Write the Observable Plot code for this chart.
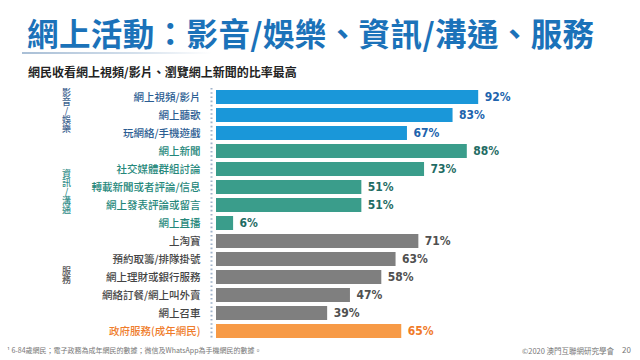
<!DOCTYPE html>
<html><head><meta charset="utf-8">
<script src="https://cdn.jsdelivr.net/npm/d3@7"></script>
<script src="https://cdn.jsdelivr.net/npm/@observablehq/plot@0.6"></script>
<style>
html,body{margin:0;padding:0;background:#fff;}
body{width:640px;height:360px;position:relative;overflow:hidden;font-family:"Noto Sans CJK TC","Noto Sans",sans-serif;}
#title{position:absolute;left:27px;top:9px;font-size:31.5px;font-weight:700;color:#1b72b9;letter-spacing:0.4px;white-space:nowrap;}
#rule{position:absolute;left:22px;top:52px;width:190px;height:2px;background:linear-gradient(to right,#a9bfd6,#d4e0ec 60%,rgba(255,255,255,0));}
#subtitle{position:absolute;left:28px;top:63px;font-size:12px;font-weight:700;color:#222;white-space:nowrap;}
#chart{position:absolute;left:0;top:84px;}
#foot{position:absolute;left:7px;top:345px;font-size:7px;color:#777;white-space:nowrap;}
#copy{position:absolute;left:522px;top:345px;font-size:7.5px;color:#777;white-space:nowrap;}
#page{position:absolute;left:622px;top:344px;font-size:8px;color:#777;}
</style></head>
<body>
<div id="title">網上活動：影音/娛樂、資訊/溝通、服務</div>
<div id="rule"></div>
<div id="subtitle">網民收看網上視頻/影片、瀏覽網上新聞的比率最高</div>
<div id="chart"></div>
<div id="foot">¹ 6-84歲網民；電子政務為成年網民的數據；微信及WhatsApp為手機網民的數據。</div>
<div id="copy">©2020 澳門互聯網研究學會</div>
<div id="page">20</div>
<script>
const categories = ["網上視頻/影片","網上聽歌","玩網絡/手機遊戲","網上新聞","社交媒體群組討論","轉載新聞或者評論/信息","網上發表評論或留言","網上直播","上淘寶","預約取籌/排隊掛號","網上理財或銀行服務","網絡訂餐/網上叫外賣","網上召車","政府服務(成年網民)"];
const values = [92,83,67,88,73,51,51,6,71,63,58,47,39,65];
const groups = ["av","av","av","info","info","info","info","info","svc","svc","svc","svc","svc","gov"];
const groupLabelAV = "影\n音\n/\n娛\n樂";
const groupLabelInfo = "資\n訊\n/\n溝\n通";
const groupLabelSvc = "服\n務";
const barColor = {av:"#1a97d9", info:"#3a9d8b", svc:"#7f7f7f", gov:"#f79a46"};
const labelColor = {av:"#2b5d92", info:"#24877a", svc:"#444", gov:"#ef7d2c"};
const valueColor = {av:"#2063ad", info:"#1f6c64", svc:"#505050", gov:"#f07a28"};

const data = categories.map((c,i)=>({cat:c, v:values[i], g:groups[i]}));

function groupText(label, anchorCat, dy, color){
  return Plot.text([{cat:anchorCat, t:label}], {y:"cat", x:()=>0, dx:-150, dy, text:"t",
    lineHeight:1.0, fontSize:9, fontWeight:500, fill:color});
}

const chart = Plot.plot({
  width:640, height:262,
  marginLeft:216, marginRight:139, marginTop:4, marginBottom:6,
  x:{domain:[0,100], axis:null},
  y:{domain:categories, axis:null, paddingInner:0.25, paddingOuter:0.125},
  color:{type:"identity"},
  style:{fontFamily:"'Noto Sans CJK TC','Noto Sans',sans-serif", background:"transparent"},
  marks:[
    Plot.ruleX([0], {dx:-5, stroke:"#9fb2c9", strokeWidth:2, strokeDasharray:"1.6,2.6"}),
    Plot.barX(data, {y:"cat", x:"v", fill:d=>barColor[d.g]}),
    Plot.text(data, {y:"cat", x:()=>0, dx:-16, text:"cat", textAnchor:"end", fontSize:10.5, fontWeight:500, fill:d=>labelColor[d.g]}),
    Plot.text(data, {y:"cat", x:"v", dx:6, text:d=>d.v+"%", textAnchor:"start", fontSize:12, fontWeight:"bold",
      fontFamily:"'Liberation Sans Narrow','DejaVu Sans Condensed',sans-serif", fill:d=>valueColor[d.g]}),
    groupText(groupLabelAV, "網上聽歌", -4, "#3d6390"),
    groupText(groupLabelInfo, "轉載新聞或者評論/信息", 5, "#2f8d88"),
    groupText(groupLabelSvc, "網上理財或銀行服務", -2, "#555")
  ]
});
document.getElementById("chart").appendChild(chart);
</script>
</body></html>
